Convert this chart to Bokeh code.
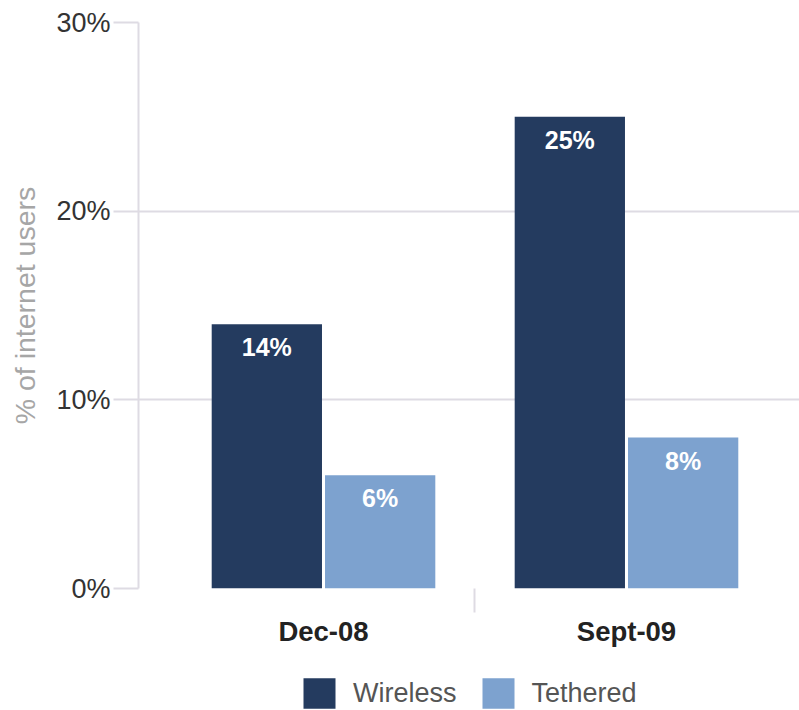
from bokeh.plotting import figure
from bokeh.layouts import column
from bokeh.models import ColumnDataSource, Range1d, FixedTicker, Legend, LegendItem, LabelSet
from bokeh.transform import dodge
from bokeh.core.properties import value
from bokeh.embed import file_html
from bokeh.resources import INLINE

categories = ["Dec-08", "Sept-09"]
wireless = [14, 25]
tethered = [6, 8]
series_names = ["Wireless", "Tethered"]
y_ticks = [0, 10, 20, 30]

DARK = "#243b5f"
LIGHT = "#7da2cf"
GRID = "#dedbe3"
FONT = "Liberation Sans"

xpos = [i + 0.5 for i in range(len(categories))]
src = ColumnDataSource(dict(
    x=xpos,
    wireless=wireless,
    tethered=tethered,
    wl=[f"{v}%" for v in wireless],
    tl=[f"{v}%" for v in tethered],
))

p = figure(width=799, height=660, output_backend="svg", toolbar_location=None,
           x_range=Range1d(-0.1106, 2.071), y_range=Range1d(0, 30),
           min_border_left=138, min_border_right=0, min_border_top=22,
           min_border_bottom=72)
p.outline_line_color = None
p.background_fill_color = "white"
p.border_fill_color = "white"

W = 0.364
r1 = p.vbar(x=dodge("x", -0.187), top="wireless", width=W, source=src,
            fill_color=DARK, line_color=None)
r2 = p.vbar(x=dodge("x", 0.187), top="tethered", width=W, source=src,
            fill_color=LIGHT, line_color=None)

lab_kw = dict(text_color="white", text_font=value(FONT), text_font_style="bold",
              text_font_size="25px", text_align="center", text_baseline="top",
              y_offset=-9, source=src)
p.add_layout(LabelSet(x=dodge("x", -0.187), y="wireless", text="wl", **lab_kw))
p.add_layout(LabelSet(x=dodge("x", 0.187), y="tethered", text="tl", **lab_kw))

# y axis
p.yaxis.ticker = FixedTicker(ticks=y_ticks)
p.yaxis.major_label_overrides = {t: f"{t}%" for t in y_ticks}
p.yaxis.axis_line_color = GRID
p.yaxis.axis_line_width = 2
p.yaxis.major_tick_line_color = GRID
p.yaxis.major_tick_line_width = 2
p.yaxis.major_tick_out = 25
p.yaxis.major_tick_in = 0
p.yaxis.minor_tick_line_color = None
p.yaxis.major_label_text_font = FONT
p.yaxis.major_label_text_font_size = "27px"
p.yaxis.major_label_text_color = "#333333"
p.yaxis.major_label_standoff = 3
p.yaxis.axis_label = "% of internet users"
p.yaxis.axis_label_text_font = FONT
p.yaxis.axis_label_text_font_size = "28.5px"
p.yaxis.axis_label_text_font_style = "normal"
p.yaxis.axis_label_text_color = "#a6a6a6"
p.yaxis.axis_label_standoff = 12

p.ygrid.grid_line_color = GRID
p.ygrid.grid_line_width = 2
p.xgrid.grid_line_color = None

# x axis
p.xaxis.ticker = FixedTicker(ticks=xpos, minor_ticks=[i + 1.0 for i in range(len(categories) - 1)])
p.xaxis.major_label_overrides = {x: c for x, c in zip(xpos, categories)}
p.xaxis.axis_line_color = None
p.xaxis.major_tick_line_color = None
p.xaxis.major_tick_out = 24
p.xaxis.major_tick_in = 0
p.xaxis.minor_tick_line_color = GRID
p.xaxis.minor_tick_line_width = 2
p.xaxis.minor_tick_out = 24
p.xaxis.minor_tick_in = 0
p.xaxis.major_label_text_font = FONT
p.xaxis.major_label_text_font_style = "bold"
p.xaxis.major_label_text_font_size = "27.5px"
p.xaxis.major_label_text_color = "#222222"
p.xaxis.major_label_standoff = 3

# legend strip below the chart (swatches come from hidden copies of the series)
lf = figure(width=799, height=50, output_backend="svg", toolbar_location=None,
            x_axis_location=None, y_axis_location=None,
            min_border_left=0, min_border_right=0, min_border_top=0, min_border_bottom=0,
            x_range=Range1d(0, 1), y_range=Range1d(0, 1))
lf.outline_line_color = None
lf.xgrid.grid_line_color = None
lf.ygrid.grid_line_color = None
d1 = lf.vbar(x="x", top="wireless", width=0.1, source=src, fill_color=DARK,
             line_color=None, visible=False)
d2 = lf.vbar(x="x", top="tethered", width=0.1, source=src, fill_color=LIGHT,
             line_color=None, visible=False)

legend = Legend(items=[LegendItem(label=series_names[0], renderers=[d1]),
                       LegendItem(label=series_names[1], renderers=[d2])],
                orientation="horizontal", location=(161, -2),
                glyph_width=40, glyph_height=38, label_standoff=14, spacing=21,
                label_text_font=FONT, label_text_font_size="27px",
                label_text_color="#555555", border_line_color=None,
                background_fill_alpha=0, padding=0, margin=0,
                inactive_fill_alpha=0)
lf.add_layout(legend, "center")

open("out.html", "w").write(file_html(column(p, lf, spacing=0), INLINE))
